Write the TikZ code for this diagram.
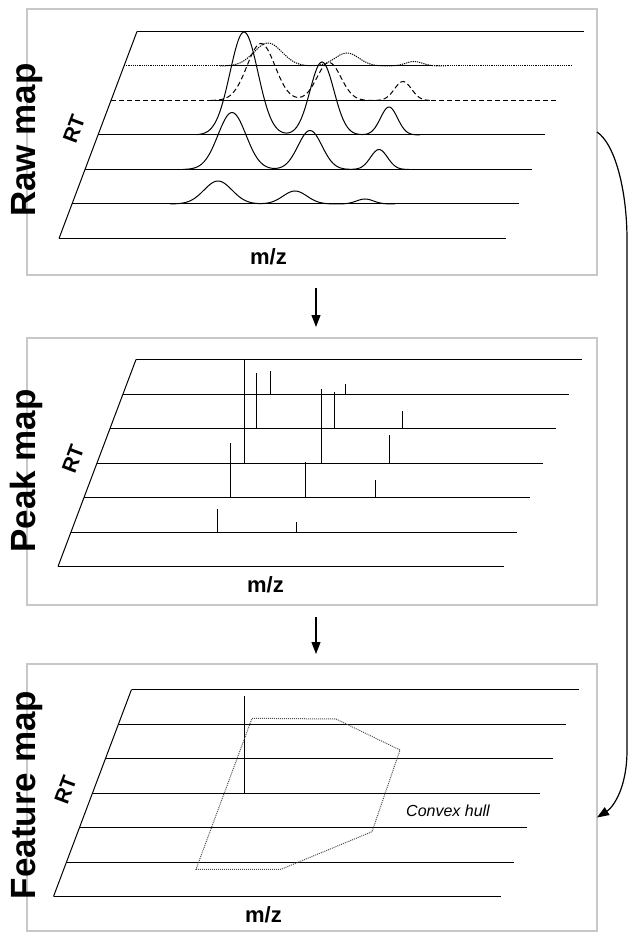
\documentclass[tikz,border=0pt]{standalone}
\usepackage{fontspec}
\setmainfont{Liberation Sans}
\usetikzlibrary{arrows.meta}

\definecolor{boxgray}{RGB}{200,200,200}
\definecolor{hullgray}{RGB}{80,80,80}

\tikzset{
  panelbox/.style={draw=boxgray, line width=2pt, minimum width=570pt, minimum height=266pt, inner sep=0pt, outer sep=0pt},
  maptitle/.style={rotate=90, anchor=base, inner sep=0pt, font=\fontsize{35}{40}\selectfont\bfseries},
  rtlabel/.style={rotate=69.5, inner sep=0pt, font=\fontsize{21}{24}\selectfont\bfseries},
  mzlabel/.style={inner sep=0pt, font=\fontsize{22}{26}\selectfont\bfseries},
  gridline/.style={line width=1pt},
  dotline/.style={line width=1pt, dash pattern=on 1.2pt off 1pt},
  dashline/.style={line width=1pt, dash pattern=on 5pt off 3pt},
  stick/.style={line width=0.9pt},
  hullline/.style={line width=1pt, draw=hullgray, dash pattern=on 1pt off 1pt},
  flow/.style={line width=1.2pt, -{Triangle[length=12pt,width=9pt]}},
}

\begin{document}
\begin{tikzpicture}[x=1pt, y=-1pt,
    declare function={g(\t,\c,\s)=exp(max(-9,-0.5*((\t-\c)/\s)*((\t-\c)/\s)));}]
  \useasboundingbox (0,0) rectangle (644,941);

  % panels
  \node[panelbox] (raw) at (312,142) {};
  \node[panelbox, minimum height=267pt] (peak) at (312,471.5) {};
  \node[panelbox, minimum height=267pt] (feature) at (312,797.5) {};

  \node[maptitle] (rawtitle) at (35,140) {Raw map};
  \node[maptitle] (peaktitle) at (35,471) {Peak map};
  \node[maptitle] (featuretitle) at (35,795) {Feature map};

  \node[rtlabel] (rawrt) at (74,129) {RT};
  \node[rtlabel] (peakrt) at (73,459) {RT};
  \node[rtlabel] (featurert) at (65.5,790) {RT};

  \node[mzlabel] (rawmz) at (268.5,256.5) {m/z};
  \node[mzlabel] (peakmz) at (265.5,585) {m/z};
  \node[mzlabel] (featuremz) at (263.5,914.5) {m/z};

  % raw map
  \begin{scope}[shift={(137,31.5)}]
    \draw[gridline] (0,0) -- (-78,207);
    \foreach \i in {0,3,4,5,6}
      \draw[gridline] ({-13*\i},{34.5*\i}) -- ++(447,0);
    \draw[dotline] (-13,34.5) -- ++(447,0);
    \draw[gridline] (88,34.5) -- (296,34.5);
    \draw[dashline] (-26,69) -- ++(447,0);
    \draw[gridline] (81,69) -- (290,69);

    \draw[dotline] plot[domain=83:309, samples=120]
      (\x,{34.5-23*g(\x,131,14)-13*g(\x,210,12)-4.5*g(\x,277,8.5)});
    \draw[dashline] plot[domain=74:296, samples=120]
      (\x,{69-57*g(\x,124,14)-38*g(\x,192,12)-19*g(\x,266,8.5)});
    \draw[gridline] plot[domain=60:283, samples=140]
      (\x,{103.5-103*g(\x,107,14)-73*g(\x,185,12)-28*g(\x,252,8.5)});
    \draw[gridline] plot[domain=46:272, samples=120]
      (\x,{138-57*g(\x,95,14)-39*g(\x,173,12)-20*g(\x,242,8.5)});
    \draw[gridline] plot[domain=33:258, samples=120]
      (\x,{172.5-23*g(\x,81,14)-13*g(\x,158,12)-5*g(\x,228,8.5)});
  \end{scope}

  % peak map
  \begin{scope}[shift={(136,359.5)}]
    \draw[gridline] (0,0) -- (-78,207);
    \foreach \i in {0,...,6}
      \draw[gridline] ({-13*\i},{34.5*\i}) -- ++(446,0);
    \foreach \px/\py/\ph in {108/103.5/103.5, 120/69/56, 134/34.5/23,
        185/103.5/74, 198/69/37, 209.6/34.5/10.5, 266/69/18, 253/103.5/28,
        94/138/55, 169.5/138/36, 239.6/138/18, 81.7/172.5/23, 160.4/172.5/10}
      \draw[stick] (\px,\py) -- ++(0,-\ph);
  \end{scope}

  % feature map
  \begin{scope}[shift={(131.5,689.5)}]
    \draw[gridline] (0,0) -- (-78,207);
    \foreach \i in {0,...,6}
      \draw[gridline] ({-13*\i},{34.5*\i}) -- ++(447,0);
    \draw[stick] (112.5,103.5) -- (112.5,6.5);
    \draw[hullline] (120.5,28.8) -- (204.5,29.5) -- (268.5,60.5) -- (240.5,142.2)
      -- (149.5,179.8) -- (64.5,179.8) -- cycle;
    \node[font=\fontsize{16}{19}\selectfont\itshape] (hulltext) at (316.5,121) {Convex hull};
  \end{scope}

  % arrows
  \coordinate (bendtop) at (627,240);
  \coordinate (bendbot) at (627,750);
  \draw[flow, shorten <=13pt, shorten >=11pt] ([xshift=4pt]raw.south) -- ([xshift=4pt]peak.north);
  \draw[flow, shorten <=12pt, shorten >=10pt] ([xshift=4pt]peak.south) -- ([xshift=4pt]feature.north);
  \draw[flow] ([yshift=10pt]raw.east) .. controls +(18,12) and (627,190) .. (bendtop)
    -- (bendbot) .. controls (627,790) and (612,808) .. ([yshift=-20pt]feature.east);
\end{tikzpicture}
\end{document}
